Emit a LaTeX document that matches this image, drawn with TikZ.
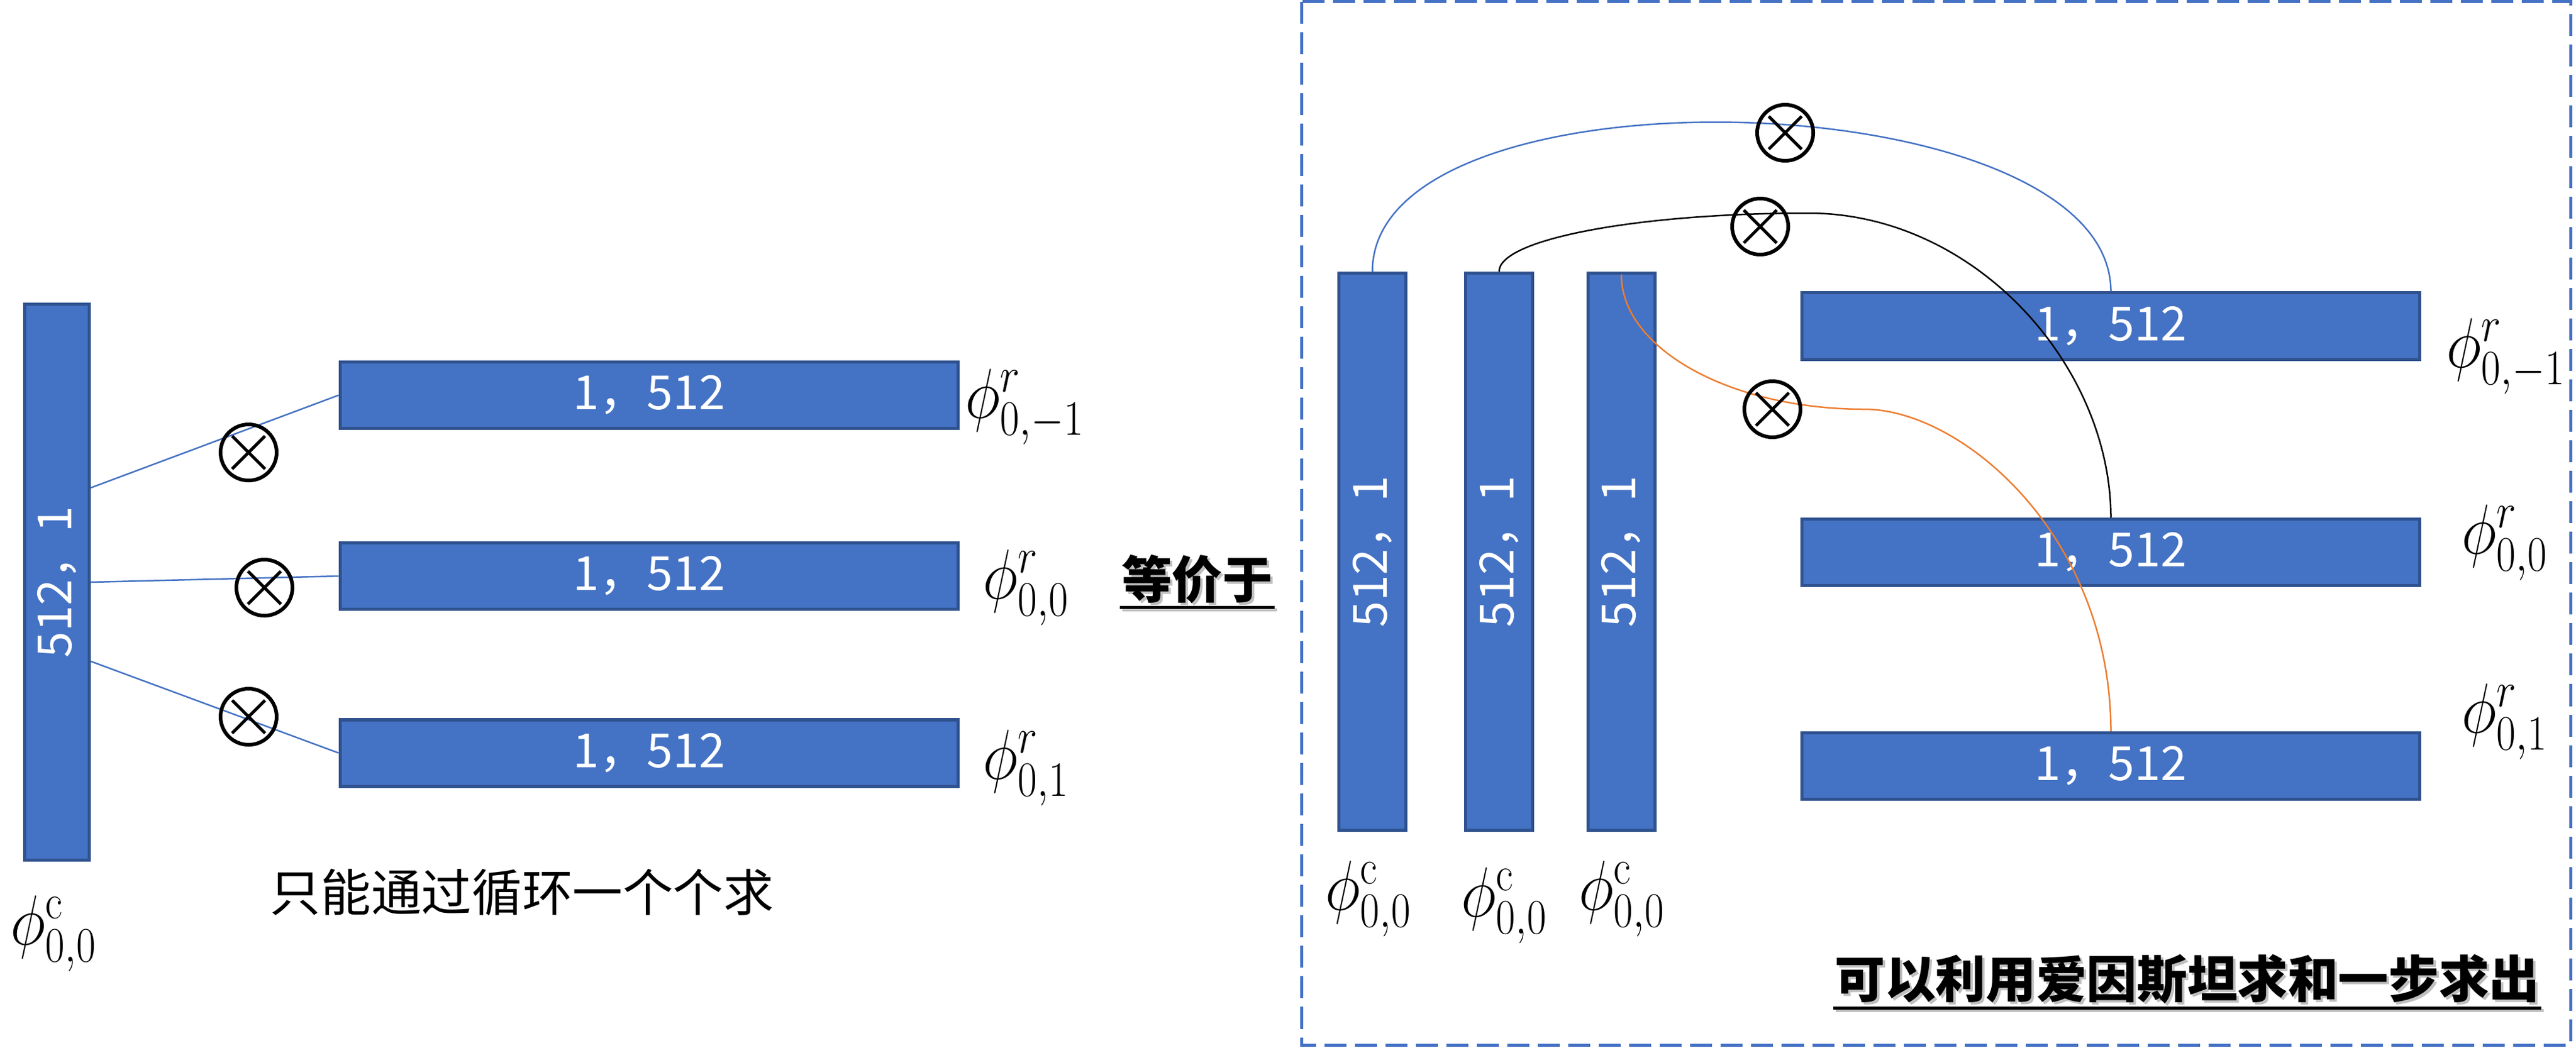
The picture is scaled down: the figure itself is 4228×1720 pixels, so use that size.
\RequirePackage{fix-cm}
\documentclass[tikz,border=0pt]{standalone}
\usepackage{fontspec}
\newfontfamily\cjk{Noto Sans CJK SC}
\usetikzlibrary{calc}
\definecolor{boxc}{HTML}{4472C4}
\definecolor{bordc}{HTML}{2F528F}
\definecolor{orc}{HTML}{ED7D31}
\tikzset{
  hbox/.style={draw=bordc, fill=boxc, line width=0.05cm, minimum width=10.14cm,
    minimum height=1.09cm, inner sep=0, text=white,
    font=\cjk\fontsize{22pt}{22pt}\selectfont},
  vbar/.style={hbox, minimum width=1.10cm, minimum height=9.15cm},
  otimes/.style={circle, draw, line width=0.06cm, minimum size=0.92cm, inner sep=0,
    path picture={\draw[line width=0.05cm]
      (path picture bounding box.center) ++(-27,-27) -- ++(54,54)
      (path picture bounding box.center) ++(-27,27) -- ++(54,-54);}},
  conn/.style={line width=0.025cm},
  philab/.style={anchor=base west, inner sep=0, font=\fontsize{33pt}{33pt}\selectfont},
  plaincap/.style={inner sep=0, font=\cjk\fontsize{23.5pt}{23.5pt}\selectfont},
  boldcap/.style={inner sep=0, font=\cjk\bfseries\fontsize{23.5pt}{23.5pt}\selectfont},
  shadowtxt/.style={text=black!45, opacity=0.55},
  dashbox/.style={draw=boxc, line width=0.05cm, dash pattern=on 0.36cm off 0.14cm}
}
\begin{document}
\begin{tikzpicture}[x=0.01cm, y=-0.01cm]
\useasboundingbox (0,0) rectangle (4228,1720);

% ---------------- left part ----------------
\node[vbar, minimum width=1.06cm, minimum height=9.13cm] (lbar) at (93.5,956) {\rotatebox{90}{512，1}};
\node[hbox] (lb1) at (1065.5,649) {1，512};
\node[hbox] (lb2) at (1065.5,946) {1，512};
\node[hbox] (lb3) at (1065.5,1236.5) {1，512};

\draw[conn, boxc] ($(lbar.east)+(0,-155)$) -- (lb1.west);
\draw[conn, boxc] (lbar.east) -- (lb2.west);
\draw[conn, boxc] ($(lbar.east)+(0,130)$) -- (lb3.west);

\node[otimes] (lm1) at (408,743) {};
\node[otimes] (lm2) at (434,965) {};
\node[otimes] (lm3) at (408,1177) {};

\node[philab] (lp1) at (1584,686) {\scalebox{0.85}[1]{$\phi^{r}_{0,-1}$}};
\node[philab] (lp2) at (1613,983) {\scalebox{0.85}[1]{$\phi^{r}_{0,0}$}};
\node[philab] (lp3) at (1613,1279) {\scalebox{0.85}[1]{$\phi^{r}_{0,1}$}};
\node[philab] (lpc) at (17,1551) {\scalebox{0.85}[1]{$\phi^{\mathrm{c}}_{0,0}$}};

\node[plaincap] (cap1) at (857,1465) {只能通过循环一个个求};

% ---------------- middle ----------------
\node[boldcap, shadowtxt] (eqs) at (1969,955) {等价于};
\node[boldcap] (eq) at (1965,951) {等价于};
\draw[line width=0.05cm, black!45, opacity=0.55] ($(eq.south west)+(2,10)$) -- ($(eq.south east)+(6,10)$);
\draw[line width=0.05cm] ($(eq.south west)+(-2,6)$) -- ($(eq.south east)+(2,6)$);

% ---------------- right part ----------------
\draw[dashbox] (2136.5,2.5) rectangle (4219,1716);

\node[vbar] (rb1) at (2252.5,906) {\rotatebox{90}{512，1}};
\node[vbar] (rb2) at (2460.5,906) {\rotatebox{90}{512，1}};
\node[vbar] (rb3) at (2661,906) {\rotatebox{90}{512，1}};

\node[hbox] (ra) at (3464.5,535.5) {1，512};
\node[hbox] (rbb) at (3464.5,907) {1，512};
\node[hbox] (rc) at (3464.5,1258) {1，512};

\coordinate (kpeak) at (2968,350);
\coordinate (opeak) at (3060,672);

\draw[conn, boxc] (rb1.north) .. controls +(0,-348) and +(0,-348) .. (ra.north);
\draw[conn, black] (rb2.north) .. controls +(0,-53) and +(-279,0) .. (kpeak)
   .. controls +(273,0) and +(0,-250) .. (rbb.north);
\draw[conn, orc] ($(rb3.north)+(0,5)$) .. controls +(0,122) and +(-220,0) .. (opeak)
   .. controls +(160,0) and +(0,-321) .. (rc.north);

\node[otimes] (rm1) at (2930,218) {};
\node[otimes] (rm2) at (2889,372) {};
\node[otimes] (rm3) at (2909,672) {};

\node[philab] (rp1) at (4015,603) {\scalebox{0.85}[1]{$\phi^{r}_{0,-1}$}};
\node[philab] (rp2) at (4040,909) {\scalebox{0.85}[1]{$\phi^{r}_{0,0}$}};
\node[philab] (rp3) at (4040,1203) {\scalebox{0.85}[1]{$\phi^{r}_{0,1}$}};
\node[philab] (rc1) at (2175,1494) {\scalebox{0.85}[1]{$\phi^{\mathrm{c}}_{0,0}$}};
\node[philab] (rc2) at (2398,1505) {\scalebox{0.85}[1]{$\phi^{\mathrm{c}}_{0,0}$}};
\node[philab] (rc3) at (2591,1494) {\scalebox{0.85}[1]{$\phi^{\mathrm{c}}_{0,0}$}};

\node[boldcap, shadowtxt] (cap2s) at (3594,1612) {可以利用爱因斯坦求和一步求出};
\node[boldcap] (cap2) at (3590,1608) {可以利用爱因斯坦求和一步求出};
\draw[line width=0.05cm, black!45, opacity=0.55] ($(cap2.south west)+(2,10)$) -- ($(cap2.south east)+(6,10)$);
\draw[line width=0.05cm] ($(cap2.south west)+(-2,6)$) -- ($(cap2.south east)+(2,6)$);
\end{tikzpicture}
\end{document}
